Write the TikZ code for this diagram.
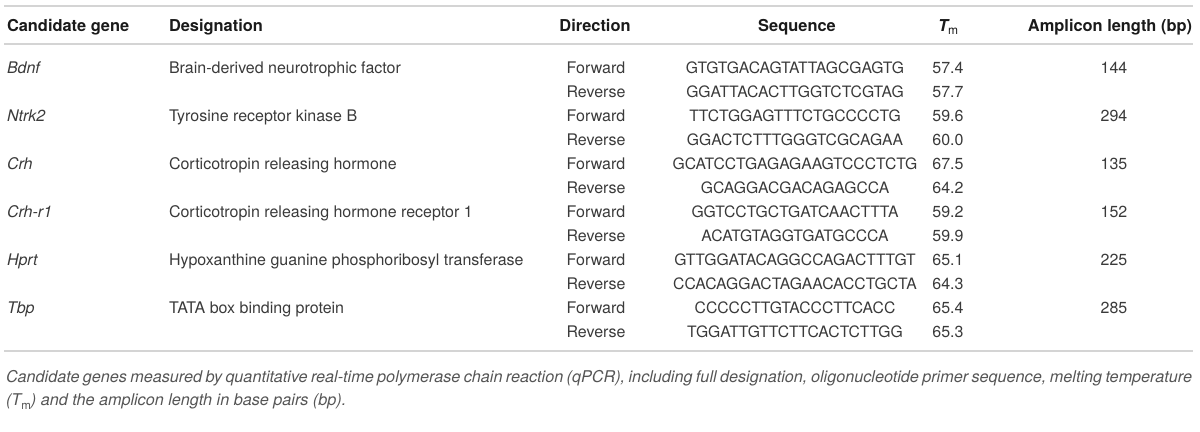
\documentclass[tikz,border=0pt]{standalone}
\usepackage{fontspec}
\setmainfont{TeX Gyre Heros}
\definecolor{bodyc}{HTML}{3A3A3A}
\definecolor{hdrc}{HTML}{1A1A1A}
\definecolor{rulec}{HTML}{D4D4D4}
\definecolor{capc}{HTML}{555555}
\begin{document}
\begin{tikzpicture}[x=1bp,y=-1bp,
  every node/.style={inner sep=0pt,outer sep=0pt},
  hd/.style={font=\fontsize{16.4bp}{19bp}\selectfont\bfseries,text=hdrc},
  cell/.style={font=\fontsize{16bp}{19bp}\selectfont,text=bodyc},
  seqc/.style={font=\fontsize{15.7bp}{19bp}\selectfont,text=bodyc},
  gene/.style={cell,font=\fontsize{16bp}{19bp}\selectfont\itshape},
  captxt/.style={font=\fontsize{16.2bp}{20bp}\selectfont\itshape,text=capc},
  hrule/.style={draw=rulec,line width=1.6bp}]
\useasboundingbox (0,0) rectangle (1200,431);
% rules
\coordinate (r1a) at (4,6); \coordinate (r1b) at (1193,6);
\coordinate (r2a) at (4,44); \coordinate (r2b) at (1193,44);
\coordinate (r3a) at (4,351); \coordinate (r3b) at (1193,351);
\draw[hrule] (r1a) -- (r1b);
\draw[hrule] (r2a) -- (r2b);
\draw[hrule] (r3a) -- (r3b);
% header
\node[hd,anchor=base west] (hgene) at (7,31) {Candidate gene};
\node[hd,anchor=base west] (hdes) at (169,31) {Designation};
\node[hd,anchor=base] (hdir) at (595,31) {Direction};
\node[hd,anchor=base] (hseq) at (797,31) {Sequence};
\node[hd,anchor=base] (htm) at (948,31) {\itshape T\raisebox{-0.22em}{\fontsize{12bp}{13bp}\selectfont\mdseries\upshape m}};
\node[hd,anchor=base east] (hamp) at (1192,31) {Amplicon length (bp)};
% rows
\foreach \i/\g/\d/\sf/\sr/\tf/\tr/\a in {
 0/Bdnf/Brain-derived neurotrophic factor/GTGTGACAGTATTAGCGAGTG/GGATTACACTTGGTCTCGTAG/57.4/57.7/144,
 1/Ntrk2/Tyrosine receptor kinase B/TTCTGGAGTTTCTGCCCCTG/GGACTCTTTGGGTCGCAGAA/59.6/60.0/294,
 2/Crh/Corticotropin releasing hormone/GCATCCTGAGAGAAGTCCCTCTG/GCAGGACGACAGAGCCA/67.5/64.2/135,
 3/Crh-r1/Corticotropin releasing hormone receptor 1/GGTCCTGCTGATCAACTTTA/ACATGTAGGTGATGCCCA/59.2/59.9/152,
 4/Hprt/Hypoxanthine guanine phosphoribosyl transferase/GTTGGATACAGGCCAGACTTTGT/CCACAGGACTAGAACACCTGCTA/65.1/64.3/225,
 5/Tbp/TATA box binding protein/CCCCCTTGTACCCTTCACC/TGGATTGTTCTTCACTCTTGG/65.4/65.3/285}{
  \pgfmathsetmacro{\yf}{73.5+48*\i}
  \pgfmathsetmacro{\yr}{97.5+48*\i}
  \node[gene,anchor=base west] (g\i) at (7,\yf) {\g};
  \node[cell,anchor=base west] (d\i) at (169,\yf) {\d};
  \node[cell,anchor=base] (df\i) at (596,\yf) {Forward};
  \node[cell,anchor=base] (dr\i) at (596,\yr) {Reverse};
  \node[seqc,anchor=base] (sf\i) at (795,\yf) {\sf};
  \node[seqc,anchor=base] (sr\i) at (795,\yr) {\sr};
  \node[cell,anchor=base] (tf\i) at (948,\yf) {\tf};
  \node[cell,anchor=base] (tr\i) at (948,\yr) {\tr};
  \node[cell,anchor=base] (a\i) at (1114,\yf) {\a};
}
% caption
\node[captxt,anchor=base west] (cap1) at (6,382.5) {\makebox[1186bp][s]{Candidate genes measured by quantitative real-time polymerase chain reaction (qPCR), including full designation, oligonucleotide primer sequence, melting temperature}};
\node[captxt,anchor=base west] (cap2) at (6,405.5) {(\textit{T}\raisebox{-0.22em}{\fontsize{11.5bp}{13bp}\selectfont\upshape m}) and the amplicon length in base pairs (bp).};
\end{tikzpicture}
\end{document}
